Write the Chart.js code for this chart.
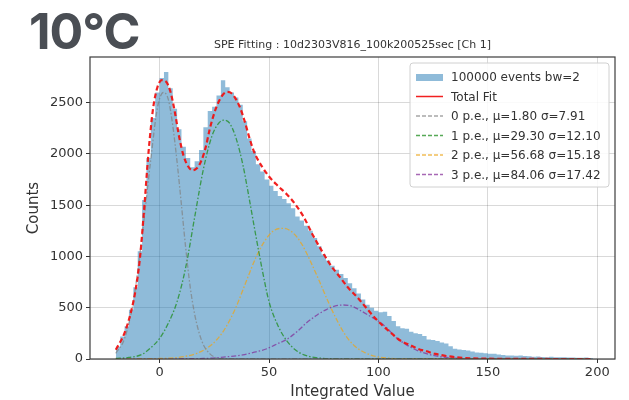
<!DOCTYPE html>
<html>
<head>
<meta charset="utf-8">
<script src="https://cdn.jsdelivr.net/npm/chart.js@4.4.1/dist/chart.umd.min.js"></script>
<style>
  html, body { margin: 0; padding: 0; background: #fff; }
  #wrap { position: relative; width: 629px; height: 400px; }
  #temp { position: absolute; left: 29px; top: 6px; font: 700 50px Inter, sans-serif; line-height: 50px; color: #4a4e54; letter-spacing: -1px; }
</style>
</head>
<body>
<div id="wrap">
  <canvas id="chart" width="629" height="400"></canvas>
  <div id="temp">10°C</div>
</div>
<script>
// histogram: bins of width 2 starting at -20
const binStart = -20;
const binWidth = 2;
const counts = [
  120, 220, 320, 480, 700, 1050, 1550, 1960, 2350, 2600,
  2740, 2800, 2640, 2440, 2240, 2070, 1960, 1870, 1930, 2040,
  2260, 2420, 2460, 2570, 2720, 2650, 2600, 2550, 2480, 2320,
  2150, 2030, 1900, 1830, 1750, 1690, 1640, 1590, 1560, 1520,
  1470, 1390, 1350, 1300, 1250, 1180, 1100, 1020, 960, 910,
  870, 830, 790, 740, 690, 640, 580, 530, 500, 470,
  455, 460, 420, 370, 320, 300, 295, 265, 250, 245,
  225, 190, 185, 175, 160, 150, 125, 100, 92, 88,
  84, 72, 64, 62, 55, 50, 52, 44, 40, 34,
  33, 32, 33, 30, 26, 22, 24, 20, 18, 21,
  17, 16, 18, 14, 15, 13, 12, 14, 10
];

// total fit
const fitX = [-20, -16, -13, -11, -9, -7, -5, -3, -1, 1, 3, 5, 7, 9, 11, 13, 15, 17, 19, 21, 23, 25, 27, 29, 31, 33, 35, 37, 39, 41, 43, 45, 47, 50, 54, 58, 62, 66, 70, 74, 78, 82, 86, 90, 94, 98, 102, 106, 110, 114, 118, 122, 126, 130, 135, 140, 150, 160, 197];
const fitY = [90, 255, 465, 670, 980, 1480, 2030, 2440, 2650, 2720, 2705, 2605, 2405, 2160, 1980, 1880, 1840, 1860, 1930, 2060, 2250, 2400, 2510, 2580, 2605, 2590, 2530, 2440, 2310, 2160, 2030, 1940, 1870, 1780, 1690, 1610, 1510, 1380, 1210, 1060, 920, 810, 700, 610, 510, 410, 325, 250, 180, 140, 100, 75, 50, 33, 18, 9, 3, 1, 0];

// single p.e. components
const pe0X = [-20, -16, -12, -8, -4, -1, 1.8, 4, 6, 8, 10, 12, 14, 16, 18, 20, 23, 26, 30, 40, 197];
const pe0Y = [55, 200, 560, 1200, 1950, 2450, 2600, 2530, 2280, 1920, 1500, 1070, 700, 440, 260, 140, 50, 12, 2, 0, 0];
const pe1X = [-20, -14, -8, -4, 0, 4, 8, 12, 16, 20, 24, 27, 29.3, 32, 35, 38, 41, 44, 47, 50, 54, 58, 62, 66, 72, 80, 90, 197];
const pe1Y = [5, 15, 45, 110, 200, 350, 560, 900, 1380, 1850, 2180, 2300, 2330, 2300, 2150, 1900, 1560, 1200, 860, 560, 330, 180, 90, 40, 12, 2, 0, 0];
const pe2X = [-20, 0, 10, 17, 22, 26, 30, 35, 40, 44, 48, 52, 56.7, 61, 65, 69, 73, 77, 81, 85, 89, 94, 100, 106, 115, 197];
const pe2Y = [0, 5, 20, 55, 110, 185, 300, 510, 780, 990, 1150, 1250, 1275, 1230, 1120, 950, 760, 560, 380, 230, 130, 60, 20, 6, 1, 0];
const pe3X = [-20, 20, 30, 38, 44, 49, 54, 58, 63, 67, 72, 76, 80, 84, 88, 92, 96, 100, 104, 108, 112, 116, 120, 125, 130, 138, 150, 197];
const pe3Y = [0, 5, 20, 40, 70, 100, 150, 190, 270, 350, 430, 480, 515, 527, 515, 470, 420, 370, 300, 210, 150, 100, 65, 35, 17, 5, 1, 0];

const xTicks = [0, 50, 100, 150, 200];
const yTicks = [0, 500, 1000, 1500, 2000, 2500];
const legendLabels = ['100000 events bw=2', 'Total Fit', '0 p.e., μ=1.80 σ=7.91', '1 p.e., μ=29.30 σ=12.10', '2 p.e., μ=56.68 σ=15.18', '3 p.e., μ=84.06 σ=17.42'];
const chartTitle = 'SPE Fitting : 10d2303V816_100k200525sec [Ch 1]';

const FONT = '"DejaVu Sans", sans-serif';
const toPoints = (xs, ys) => xs.map((x, i) => ({ x, y: ys[i] }));

// left bin edges, plus the right edge of the last bin
const histPoints = counts.map((c, i) => ({ x: binStart + i * binWidth, y: c }));
histPoints.push({ x: binStart + counts.length * binWidth, y: counts[counts.length - 1] });

const compStyle = (color) => ({
  showLine: true, pointRadius: 0, borderColor: color, borderWidth: 1.3,
  borderDash: [5, 2, 1.5, 2], cubicInterpolationMode: 'monotone', fill: false, order: 5
});

// frame, title and legend, drawn like matplotlib
const framePlugin = {
  id: 'frame',
  afterDraw(chart) {
    const { ctx, chartArea: a } = chart;
    const ds = chart.data.datasets;
    ctx.save();
    ctx.strokeStyle = '#3c3c3c';
    ctx.lineWidth = 1.2;
    ctx.strokeRect(a.left, a.top, a.right - a.left, a.bottom - a.top);

    ctx.fillStyle = '#333';
    ctx.font = '11px ' + FONT;
    ctx.textAlign = 'center';
    ctx.textBaseline = 'middle';
    ctx.fillText(chartTitle, (a.left + a.right) / 2, 45);

    // legend box
    const bx = 410, by = 63, bw = 199, bh = 124;
    ctx.fillStyle = 'rgba(255,255,255,0.85)';
    ctx.strokeStyle = '#d0d0d0';
    ctx.lineWidth = 1;
    ctx.beginPath();
    ctx.roundRect(bx, by, bw, bh, 3);
    ctx.fill();
    ctx.stroke();

    ctx.font = '12px ' + FONT;
    ctx.textAlign = 'left';
    legendLabels.forEach((label, i) => {
      const y = 77 + i * 19.5;
      const d = ds[i];
      if (i === 0) {
        ctx.fillStyle = d.backgroundColor;
        ctx.fillRect(416, y - 3, 27, 7);
      } else {
        ctx.strokeStyle = d.borderColor;
        ctx.lineWidth = i === 1 ? 1.5 : 1.3;
        ctx.setLineDash(i === 1 ? [] : [4, 2]);
        ctx.beginPath();
        ctx.moveTo(416, y);
        ctx.lineTo(443, y);
        ctx.stroke();
        ctx.setLineDash([]);
      }
      ctx.fillStyle = '#333';
      ctx.fillText(label, 451, y + 1);
    });
    ctx.restore();
  }
};

new Chart(document.getElementById('chart'), {
  type: 'scatter',
  data: {
    datasets: [
      {
        label: legendLabels[0], data: histPoints, showLine: true, stepped: 'before',
        pointRadius: 0, borderWidth: 0, borderColor: 'rgba(0,0,0,0)',
        backgroundColor: 'rgba(31,119,180,0.5)', fill: 'origin', order: 10
      },
      {
        label: legendLabels[1], data: toPoints(fitX, fitY), showLine: true, pointRadius: 0,
        borderColor: 'rgba(240,20,20,0.95)', borderWidth: 2.2, borderDash: [5, 3],
        cubicInterpolationMode: 'monotone', fill: false, order: 1
      },
      { label: legendLabels[2], data: toPoints(pe0X, pe0Y), ...compStyle('rgba(128,128,128,0.7)') },
      { label: legendLabels[3], data: toPoints(pe1X, pe1Y), ...compStyle('rgba(30,140,30,0.75)') },
      { label: legendLabels[4], data: toPoints(pe2X, pe2Y), ...compStyle('rgba(235,165,30,0.75)') },
      { label: legendLabels[5], data: toPoints(pe3X, pe3Y), ...compStyle('rgba(130,40,150,0.7)') }
    ]
  },
  options: {
    responsive: false,
    animation: false,
    devicePixelRatio: 1,
    layout: { padding: { top: 57, right: 14, left: 0, bottom: 0 } },
    plugins: { legend: { display: false }, tooltip: { enabled: false } },
    scales: {
      x: {
        type: 'linear', min: -31.8, max: 208.1,
        afterBuildTicks: (s) => { s.ticks = xTicks.map(v => ({ value: v })); },
        afterFit: (s) => { s.height = 41; },
        ticks: { font: { family: FONT, size: 13 }, color: '#333', padding: 2, maxRotation: 0, autoSkip: false, callback: (v) => String(v) },
        grid: { color: 'rgba(0,0,0,0.15)', tickColor: '#333', tickLength: 4 },
        border: { display: false },
        title: { display: true, text: 'Integrated Value', font: { family: FONT, size: 15, lineHeight: 1 }, color: '#333', padding: { top: 0, bottom: 0 } }
      },
      y: {
        min: 0, max: 2946,
        afterBuildTicks: (s) => { s.ticks = yTicks.map(v => ({ value: v })); },
        afterFit: (s) => { s.width = 90; },
        ticks: { font: { family: FONT, size: 13 }, color: '#333', padding: 3, callback: (v) => String(v) },
        grid: { color: 'rgba(0,0,0,0.15)', tickColor: '#333', tickLength: 4 },
        border: { display: false },
        title: { display: true, text: 'Counts', font: { family: FONT, size: 15, lineHeight: 1 }, color: '#333', padding: { top: 27, bottom: 0 } }
      }
    }
  },
  plugins: [framePlugin]
});
</script>
</body>
</html>
